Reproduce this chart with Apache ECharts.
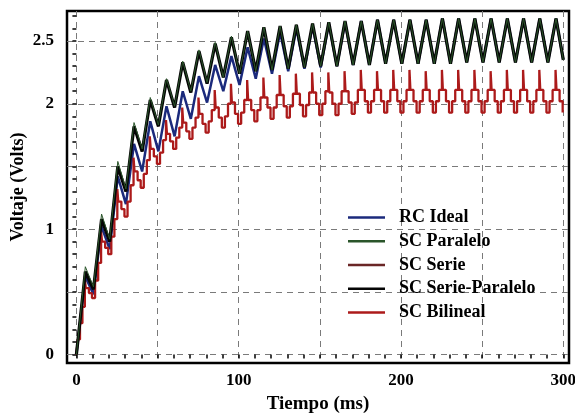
<!DOCTYPE html>
<html>
<head>
<meta charset="utf-8">
<script src="https://cdn.jsdelivr.net/npm/echarts@6/dist/echarts.min.js"></script>
<style>
html,body{margin:0;padding:0;background:#fff;}
#c{width:575px;height:419px;}
</style>
</head>
<body>
<div id="c"></div>
<script>
// ---- data ----
// times (ms) of the alternating peaks/troughs of the RC / SC curves
const tTri = [0,
  5.5,10.5,15.5,20.5,25.5,30.5,35.5,40.5,45.5,50.5,
  55.5,60.5,65.5,70.5,75.5,80.5,85.5,90.5,95.5,100.5,
  105.5,110.5,115.5,120.5,125.5,130.5,135.5,140.5,145.5,150.5,
  155.5,160.5,165.5,170.5,175.5,180.5,185.5,190.5,195.5,200.5,
  205.5,210.5,215.5,220.5,225.5,230.5,235.5,240.5,245.5,250.5,
  255.5,260.5,265.5,270.5,275.5,280.5,285.5,290.5,295.5,300];

const rcIdeal = [0,
  0.62,0.48, 1.02,0.84, 1.42,1.20, 1.68,1.46, 1.86,1.62,
  1.98,1.74, 2.10,1.88, 2.22,2.01, 2.31,2.10, 2.38,2.15,
  2.45,2.20, 2.52,2.24, 2.57,2.26, 2.60,2.28, 2.62,2.29,
  2.64,2.30, 2.65,2.31, 2.66,2.31, 2.67,2.32, 2.67,2.32,
  2.67,2.32, 2.67,2.32, 2.68,2.32, 2.68,2.33, 2.68,2.33,
  2.68,2.33, 2.68,2.33, 2.68,2.33, 2.68,2.33, 2.68,2.35];

const scParalelo = [0,
  0.70,0.54, 1.12,0.92, 1.54,1.32, 1.85,1.64, 2.05,1.83,
  2.20,1.98, 2.34,2.10, 2.43,2.17, 2.49,2.21, 2.54,2.24,
  2.58,2.26, 2.61,2.27, 2.62,2.28, 2.63,2.29, 2.64,2.30,
  2.65,2.30, 2.66,2.31, 2.66,2.31, 2.67,2.32, 2.67,2.32,
  2.67,2.32, 2.67,2.32, 2.68,2.32, 2.68,2.33, 2.68,2.33,
  2.68,2.33, 2.68,2.33, 2.68,2.33, 2.68,2.33, 2.68,2.35];

const scSerie = [0,
  0.66,0.52, 1.08,0.90, 1.50,1.30, 1.82,1.62, 2.03,1.82,
  2.19,1.97, 2.33,2.09, 2.42,2.16, 2.48,2.21, 2.53,2.24,
  2.58,2.26, 2.61,2.27, 2.62,2.28, 2.63,2.29, 2.64,2.30,
  2.65,2.30, 2.66,2.31, 2.66,2.31, 2.67,2.32, 2.67,2.32,
  2.67,2.32, 2.67,2.32, 2.68,2.32, 2.68,2.33, 2.68,2.33,
  2.68,2.33, 2.68,2.33, 2.68,2.33, 2.68,2.33, 2.68,2.35];

const scSerieParalelo = [0,
  0.66,0.52, 1.08,0.90, 1.50,1.30, 1.82,1.62, 2.03,1.82,
  2.19,1.97, 2.33,2.09, 2.42,2.16, 2.48,2.21, 2.53,2.24,
  2.58,2.26, 2.61,2.27, 2.62,2.28, 2.63,2.29, 2.64,2.30,
  2.65,2.30, 2.66,2.31, 2.66,2.31, 2.67,2.32, 2.67,2.32,
  2.67,2.32, 2.67,2.32, 2.68,2.32, 2.68,2.33, 2.68,2.33,
  2.68,2.33, 2.68,2.33, 2.68,2.33, 2.68,2.33, 2.68,2.35];

// SC Bilineal: stepped curve. Start, then per 10 ms cycle the levels
// [spike, shoulder, mid, trough, mid, shoulder]
const bilinealStartT = [0, 0.8, 2.2, 3.7];
const bilinealStartV = [0, 0.12, 0.25, 0.38];
const bilinealCycleStart = 5.2;   // ms, first spike
const bilinealPeriod = 10;        // ms
const bilinealLevelT = [0, 0.6, 2.5, 4.4, 6.3, 8.2]; // ms into cycle
const bilinealLevels = [
  [0.60,0.53,0.49,0.45,0.59,0.73],
  [0.98,0.90,0.85,0.80,0.94,1.08],
  [1.32,1.22,1.16,1.10,1.22,1.35],
  [1.57,1.46,1.39,1.33,1.44,1.55],
  [1.74,1.64,1.58,1.52,1.61,1.71],
  [1.87,1.76,1.70,1.64,1.73,1.81],
  [1.97,1.85,1.78,1.72,1.81,1.89],
  [2.05,1.92,1.84,1.77,1.86,1.95],
  [2.11,1.97,1.89,1.81,1.90,2.00],
  [2.16,2.01,1.92,1.84,1.93,2.03],
  [2.19,2.03,1.95,1.86,1.95,2.05],
  [2.21,2.05,1.97,1.88,1.97,2.07],
  [2.23,2.07,1.98,1.89,1.98,2.08],
  [2.24,2.08,1.99,1.90,1.99,2.09],
  [2.25,2.09,2.00,1.91,2.00,2.10],
  [2.25,2.09,2.00,1.91,2.00,2.10],
  [2.26,2.10,2.01,1.92,2.01,2.11],
  [2.27,2.11,2.02,1.93,2.02,2.11],
  [2.26,2.11,2.02,1.93,2.02,2.11],
  [2.27,2.11,2.02,1.93,2.02,2.11],
  [2.27,2.11,2.02,1.93,2.02,2.11],
  [2.26,2.11,2.02,1.93,2.02,2.11],
  [2.27,2.11,2.02,1.93,2.02,2.11],
  [2.27,2.11,2.02,1.93,2.02,2.11],
  [2.27,2.11,2.02,1.93,2.02,2.11],
  [2.26,2.11,2.02,1.93,2.02,2.11],
  [2.27,2.11,2.02,1.93,2.02,2.11],
  [2.27,2.11,2.02,1.93,2.02,2.11],
  [2.27,2.11,2.02,1.93,2.02,2.11],
  [2.27,2.11,2.02,1.93,2.02,2.11]
];
const tEnd = 300;

// axis ticks / labels
const xLabels = [0, 100, 200, 300];
const xGrid = [0, 50, 100, 150, 200, 250, 300];
const xTicks = [0,10,20,30,40,50,60,70,80,90,100,110,120,130,140,150,160,170,180,190,200,210,220,230,240,250,260,270,280,290,300];
const yLabels = [0, 1, 2, 2.5];
const yGrid = [0, 0.5, 1, 1.5, 2, 2.5];
const yTicks = [0,0.1,0.2,0.3,0.4,0.5,0.6,0.7,0.8,0.9,1,1.1,1.2,1.3,1.4,1.5,1.6,1.7,1.8,1.9,2,2.1,2.2,2.3,2.4,2.5,2.6,2.7];

const seriesNames = ['RC Ideal', 'SC Paralelo', 'SC Serie', 'SC Serie-Paralelo', 'SC Bilineal'];

// ---- build ----
function zip(t, v) { const n = Math.min(t.length, v.length); const o = []; for (let i = 0; i < n; i++) o.push([t[i], v[i]]); return o; }
function bilinealData() {
  const o = zip(bilinealStartT, bilinealStartV);
  bilinealLevels.forEach((lv, k) => {
    const c = bilinealCycleStart + k * bilinealPeriod;
    lv.forEach((v, j) => { const t = c + bilinealLevelT[j]; if (t < tEnd) o.push([t, v]); });
  });
  o.push([tEnd, o[o.length - 1][1]]);
  return o;
}

const font = '"Liberation Serif", "Times New Roman", serif';
const colors = ['#1b2a7c', '#2a552a', '#6a2626', '#050505', '#ac1a1a'];
const chart = echarts.init(document.getElementById('c'), null, { renderer: 'canvas' });
const option = {
  animation: false,
  backgroundColor: '#fff',
  grid: { left: 67, right: 6, top: 11, bottom: 56, show: true, borderColor: '#000', borderWidth: 2.5, backgroundColor: 'transparent', containLabel: false, outerBoundsMode: 'none' },
  legend: {
    data: seriesNames.map((n, i) => ({ name: n, icon: 'rect', itemStyle: { color: colors[i] } })),
    orient: 'vertical', left: 343, top: 202, padding: 5,
    itemWidth: 37, itemHeight: 2.5, itemGap: 3,
    textStyle: { fontFamily: font, fontWeight: 'bold', fontSize: 18, color: '#000', lineHeight: 20.8, padding: [0, 0, 0, 9] },
    backgroundColor: 'transparent'
  },
  xAxis: [
    {
      type: 'value', min: -5.8, max: 303.5, position: 'bottom',
      axisLine: { show: false },
      axisTick: { show: true, inside: false, length: 4, lineStyle: { color: '#000', width: 1.5 }, customValues: xTicks },
      axisLabel: { customValues: xLabels, margin: 9, fontFamily: font, fontWeight: 'bold', fontSize: 17, color: '#000' },
      splitLine: { show: false },
      name: 'Tiempo (ms)', nameLocation: 'middle', nameGap: 32, nameMoveOverlap: false,
      nameTextStyle: { fontFamily: font, fontWeight: 'bold', fontSize: 19, color: '#000' }
    },
    {
      type: 'value', min: -5.8, max: 303.5, position: 'top',
      axisLine: { show: false },
      axisTick: { show: false, customValues: xGrid },
      axisLabel: { show: false },
      splitLine: { show: true, lineStyle: { color: '#7a7a7a', width: 1, type: [6, 5] } }
    }
  ],
  yAxis: [
    {
      type: 'value', min: -0.068, max: 2.74, position: 'left',
      axisLine: { show: false },
      axisTick: { show: true, inside: false, length: 4, lineStyle: { color: '#000', width: 1.5 }, customValues: yTicks },
      axisLabel: { customValues: yLabels, margin: 13, fontFamily: font, fontWeight: 'bold', fontSize: 17, color: '#000' },
      splitLine: { show: false },
      name: 'Voltaje (Volts)', nameLocation: 'middle', nameGap: 40, nameRotate: 90, nameMoveOverlap: false,
      nameTextStyle: { fontFamily: font, fontWeight: 'bold', fontSize: 18, color: '#000' }
    },
    {
      type: 'value', min: -0.068, max: 2.74, position: 'right',
      axisLine: { show: false },
      axisTick: { show: false, customValues: yGrid },
      axisLabel: { show: false },
      splitLine: { show: true, lineStyle: { color: '#7a7a7a', width: 1, type: [6, 5] } }
    }
  ],
  series: [
    { name: seriesNames[0], type: 'line', z: 2, symbol: 'none', data: zip(tTri, rcIdeal), lineStyle: { color: colors[0], width: 2.5 }, itemStyle: { color: colors[0] } },
    { name: seriesNames[1], type: 'line', z: 6, symbol: 'none', data: zip(tTri, scParalelo), lineStyle: { color: colors[1], width: 1 }, itemStyle: { color: colors[1] } },
    { name: seriesNames[2], type: 'line', z: 3, symbol: 'none', data: zip(tTri, scSerie), lineStyle: { color: colors[2], width: 1.3 }, itemStyle: { color: colors[2] } },
    { name: seriesNames[3], type: 'line', z: 5, symbol: 'none', data: zip(tTri, scSerieParalelo), lineStyle: { color: colors[3], width: 3.2 }, itemStyle: { color: colors[3] } },
    { name: seriesNames[4], type: 'line', z: 4, symbol: 'none', step: 'end', data: bilinealData(), lineStyle: { color: colors[4], width: 2.3 }, itemStyle: { color: colors[4] } }
  ]
};
chart.setOption(option);
</script>
</body>
</html>
